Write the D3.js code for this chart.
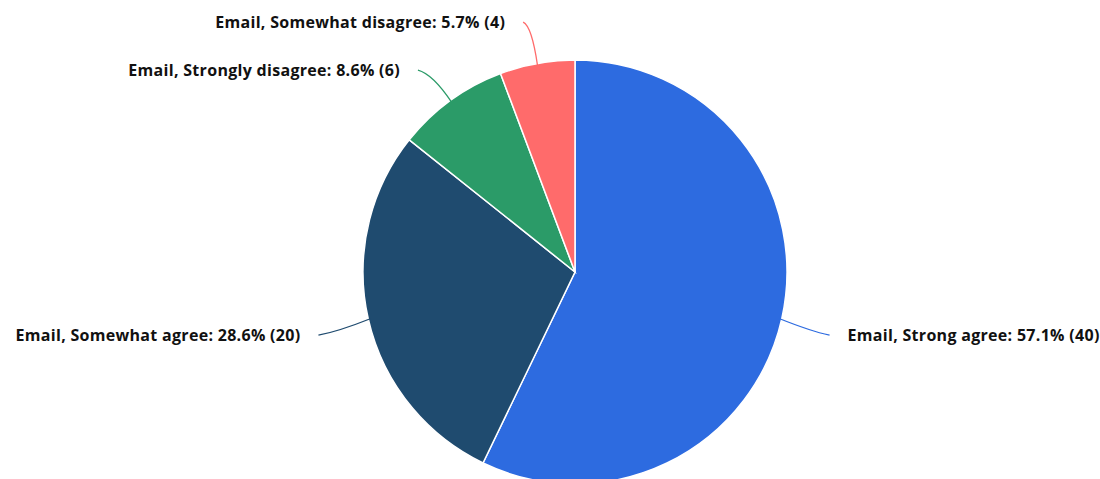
<!DOCTYPE html>
<html>
<head>
<meta charset="utf-8">
<script src="https://cdn.jsdelivr.net/npm/d3@7"></script>
<style>
  body { margin: 0; background: #fff; }
  text { font-family: "Open Sans", sans-serif; font-weight: 700; }
</style>
</head>
<body>
<script>
// chart data
const categories = ["Strong agree", "Somewhat agree", "Strongly disagree", "Somewhat disagree"];
const counts = [40, 20, 6, 4];
const percents = ["57.1%", "28.6%", "8.6%", "5.7%"];
const colors = ["#2d6be0", "#1f4b6f", "#2b9b68", "#ff6b6b"];
const prefix = "Email";

const width = 1100, height = 479;
const cx = 575, cy = 272, radius = 212;

const svg = d3.select("body")
  .append("svg")
  .attr("width", width)
  .attr("height", height);

const g = svg.append("g").attr("transform", `translate(${cx},${cy})`);

const pie = d3.pie().sort(null).value((d) => d.count);
const arcs = pie(categories.map((c, i) => ({ name: c, count: counts[i], pct: percents[i], color: colors[i] })));

const arc = d3.arc().innerRadius(0).outerRadius(radius);

g.selectAll("path.slice")
  .data(arcs)
  .enter()
  .append("path")
  .attr("class", "slice")
  .attr("d", arc)
  .attr("fill", (d) => d.data.color)
  .attr("stroke", "#fff")
  .attr("stroke-width", 1.5);

// point on a circle of radius r at the slice's mid angle
const polar = (a, r) => [Math.sin(a) * r, -Math.cos(a) * r];

const labels = g.selectAll("g.label")
  .data(arcs)
  .enter()
  .append("g")
  .attr("class", "label");

labels.each(function (d) {
  const mid = (d.startAngle + d.endAngle) / 2;
  const right = Math.sin(mid) > 0;
  const edge = polar(mid, radius - 2);
  const anchor = polar(mid, radius + 45);
  anchor[1] += Math.abs(Math.sin(mid)) > 0.5 ? 6 : 3;
  const ctrl = [polar(mid, radius + 30)[0], anchor[1] + (anchor[1] > 0 ? -4 : 4)];
  const end = [anchor[0] + (right ? 4 : -6), anchor[1]];

  d3.select(this)
    .append("path")
    .attr("d", `M${edge[0]},${edge[1]} Q${ctrl[0]},${ctrl[1]} ${end[0]},${end[1]}`)
    .attr("fill", "none")
    .attr("stroke", d.data.color)
    .attr("stroke-width", 1.3);

  d3.select(this)
    .append("text")
    .attr("x", end[0] + (right ? 18 : -18))
    .attr("y", end[1])
    .attr("dy", "0.35em")
    .attr("text-anchor", right ? "start" : "end")
    .attr("font-size", 16)
    .attr("letter-spacing", 0.3)
    .attr("fill", "#111")
    .text(`${prefix}, ${d.data.name}: ${d.data.pct} (${d.data.count})`);
});
</script>
</body>
</html>
